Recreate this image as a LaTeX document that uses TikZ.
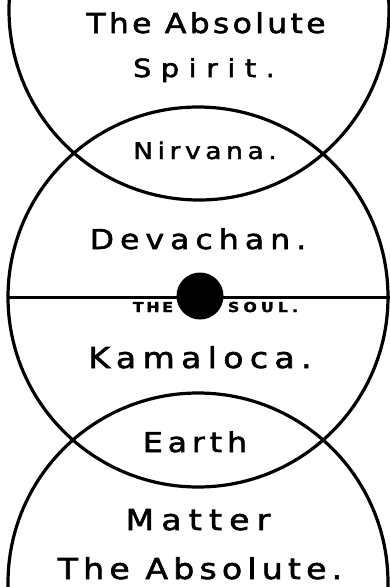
\documentclass[tikz,border=0pt]{standalone}
\usepackage{fontspec}
\setmainfont[FakeBold=2,FakeStretch=1.15]{DejaVu Sans}
\newcommand\lblfont[2]{\fontsize{#1}{#1}\selectfont\addfontfeature{LetterSpace=#2}}
\begin{document}
\begin{tikzpicture}[x=1pt,y=-1pt,
  ring/.style={draw=black,line width=3.2pt},
  lbl/.style={anchor=base,inner sep=0pt,text=black},
  small/.style={anchor=base,inner sep=0pt,text=black,font=\bfseries}]
\useasboundingbox (0,0) rectangle (390,587);
\clip (0,0) rectangle (390,587);
\fill[white] (0,0) rectangle (390,587);
% circles
\coordinate (ctop) at (199,10);
\coordinate (cmid) at (198,297);
\coordinate (cbot) at (198,583);
\draw[ring] (ctop) circle[radius=190];
\draw[ring] (cmid) circle[radius=190];
\draw[ring] (cbot) circle[radius=190];
% horizontal line
\coordinate (lineL) at (8,297);
\coordinate (lineR) at (392,297);
\draw[line width=3pt] (lineL) -- (lineR);
% soul
\node[circle,fill=black,minimum size=47pt,inner sep=0pt] (soul) at (200,296) {};
% labels
\node[lbl] (abs1) at (206,33) {\lblfont{27.4}{12}The Absolute};
\node[lbl] (spirit) at (204,77) {\lblfont{25}{38}Spirit.};
\node[lbl] (nirvana) at (205,159) {\lblfont{23}{20}Nirvana.};
\node[lbl] (devachan) at (198,249) {\lblfont{27.4}{22}Devachan.};
\node[small] (the) at (153,312) {\lblfont{13.7}{20}THE};
\node[small] (soultxt) at (263,312) {\lblfont{13.7}{30}SOUL.};
\node[lbl] (kamaloca) at (200,368) {\lblfont{28.8}{22}Kamaloca.};
\node[lbl] (earth) at (195,452) {\lblfont{27.4}{18}Earth};
\node[lbl] (matter) at (198,530) {\lblfont{28.8}{25}Matter};
\node[lbl] (abs2) at (200,579) {\lblfont{28.8}{18}The Absolute.};
\end{tikzpicture}
\end{document}
